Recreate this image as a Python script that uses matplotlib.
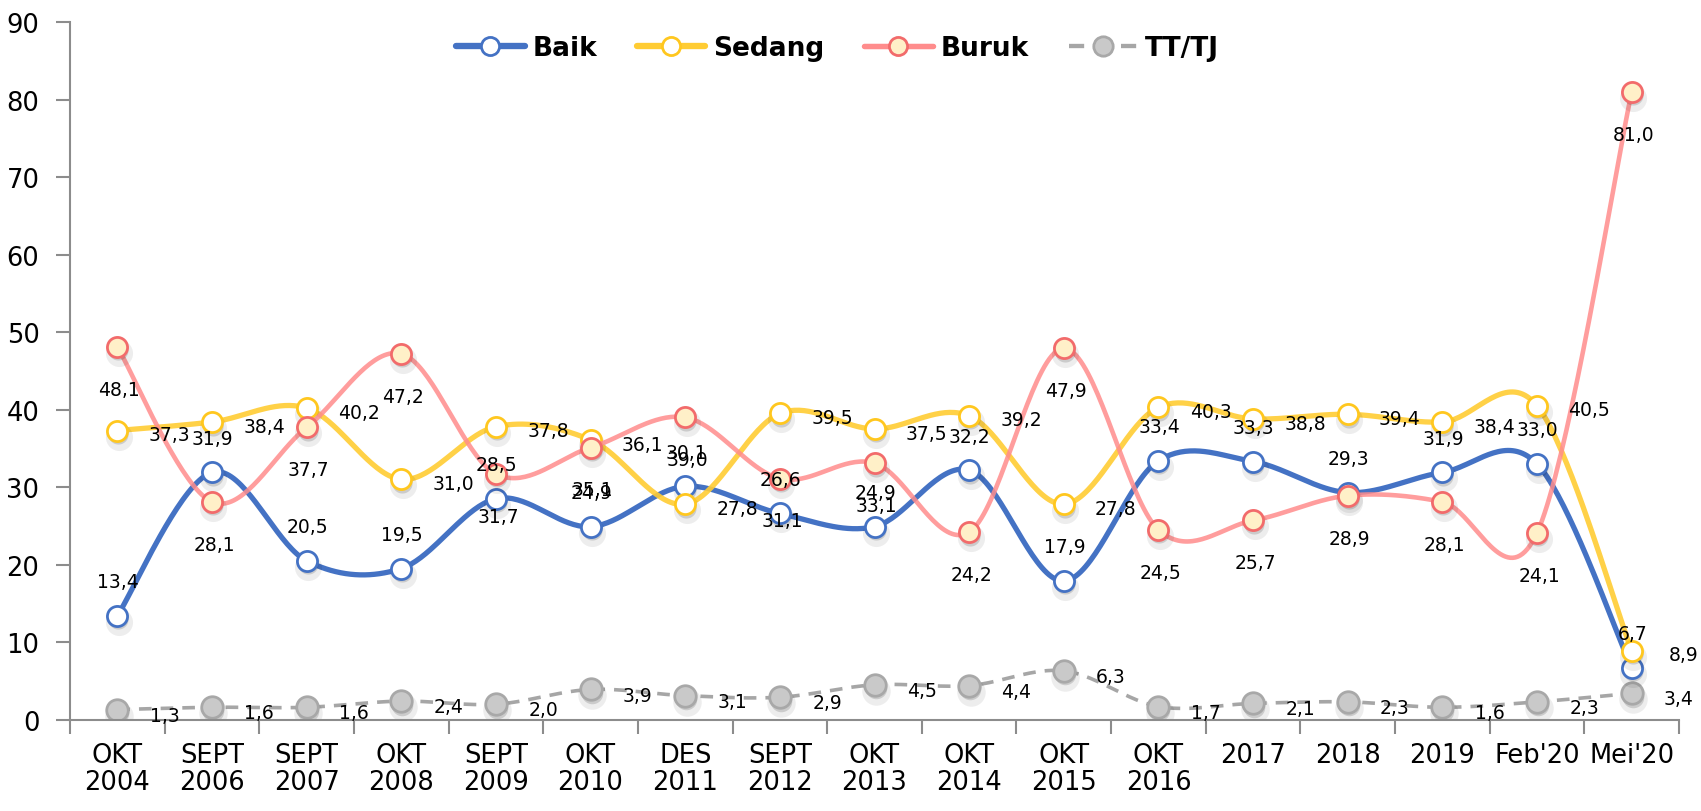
import numpy as np
import matplotlib
matplotlib.use("Agg")
import matplotlib.pyplot as plt
from matplotlib import transforms
from matplotlib.lines import Line2D

# ---------------- data ----------------
categories = ["OKT\n2004", "SEPT\n2006", "SEPT\n2007", "OKT\n2008", "SEPT\n2009",
              "OKT\n2010", "DES\n2011", "SEPT\n2012", "OKT\n2013", "OKT\n2014",
              "OKT\n2015", "OKT\n2016", "2017", "2018", "2019", "Feb'20", "Mei'20"]
baik = [13.4, 31.9, 20.5, 19.5, 28.5, 24.9, 30.1, 26.6, 24.9, 32.2, 17.9, 33.4, 33.3, 29.3, 31.9, 33.0, 6.7]
sedang = [37.3, 38.4, 40.2, 31.0, 37.8, 36.1, 27.8, 39.5, 37.5, 39.2, 27.8, 40.3, 38.8, 39.4, 38.4, 40.5, 8.9]
buruk = [48.1, 28.1, 37.7, 47.2, 31.7, 35.1, 39.0, 31.1, 33.1, 24.2, 47.9, 24.5, 25.7, 28.9, 28.1, 24.1, 81.0]
tttj = [1.3, 1.6, 1.6, 2.4, 2.0, 3.9, 3.1, 2.9, 4.5, 4.4, 6.3, 1.7, 2.1, 2.3, 1.6, 2.3, 3.4]
series_names = ["Baik", "Sedang", "Buruk", "TT/TJ"]
yticks = list(range(0, 91, 10))


def smooth(xs, ys, n=40):
    """Catmull-Rom style smoothing (as Excel's smoothed line)."""
    xs = np.asarray(xs, float)
    ys = np.asarray(ys, float)
    P = np.column_stack([xs, ys])
    out = []
    for i in range(len(P) - 1):
        p0 = P[i - 1] if i > 0 else P[i]
        p1 = P[i]
        p2 = P[i + 1]
        p3 = P[i + 2] if i + 2 < len(P) else P[i + 1]
        c1 = p1 + (p2 - p0) / 6.0
        c2 = p2 - (p3 - p1) / 6.0
        t = np.linspace(0, 1, n)[:, None]
        seg = ((1 - t) ** 3) * p1 + 3 * ((1 - t) ** 2) * t * c1 + 3 * (1 - t) * t ** 2 * c2 + t ** 3 * p2
        if i > 0:
            seg = seg[1:]
        out.append(seg)
    out = np.vstack(out)
    return out[:, 0], out[:, 1]


fig = plt.figure(figsize=(17.01, 8.12), dpi=100)
ax = fig.add_axes([70 / 1701, 1 - 720.7 / 812, (1679 - 70) / 1701, (720.7 - 23) / 812])

x = np.arange(len(categories))

styles = {
    "Baik": dict(data=baik, lc="#4472C4", lw=3.8, ls="-", mfc="white", mec="#4472C4", ms=14.5, alpha=1.0, z=3),
    "Sedang": dict(data=sedang, lc="#FFCC33", lw=3.8, ls="-", mfc="white", mec="#FFC71F", ms=14.5, alpha=0.9, z=4),
    "Buruk": dict(data=buruk, lc="#FF8C8C", lw=3.3, ls="-", mfc="#FFF0C8", mec="#F26B6B", ms=14.5, alpha=0.85, z=5),
    "TT/TJ": dict(data=tttj, lc="#A6A6A6", lw=2.6, ls=(0, (3.5, 2.5)), mfc="#C9C9C9", mec="#A8A8A8", ms=15.5, alpha=1.0, z=2),
}

shadow_tr = transforms.offset_copy(ax.transData, fig=fig, x=1.5, y=-6, units="dots")
shadow_tr2 = transforms.offset_copy(ax.transData, fig=fig, x=1.0, y=-3.5, units="dots")

for name in series_names:
    s = styles[name]
    sx, sy = smooth(x, s["data"])
    ax.plot(sx, sy, color=s["lc"], lw=s["lw"], ls=s["ls"], alpha=s["alpha"],
            solid_capstyle="round", zorder=s["z"])
    # marker shadows
    ax.plot(x, s["data"], ls="none", marker="o", ms=s["ms"] + 5, mfc="#000000", mec="none",
            alpha=0.07, transform=shadow_tr, zorder=s["z"] + 0.1)
    ax.plot(x, s["data"], ls="none", marker="o", ms=s["ms"], mfc="#000000", mec="none",
            alpha=0.14, transform=shadow_tr2, zorder=s["z"] + 0.1)
    ax.plot(x, s["data"], ls="none", marker="o", ms=s["ms"], mfc=s["mfc"], mec=s["mec"],
            mew=2.0, zorder=s["z"] + 0.2)

# data labels
lab_fs = 13.5
label_offsets = {"Baik": (0.5, 24.5), "Sedang": (37.5, -3.0), "Buruk": (1.5, -30.5), "TT/TJ": (34, -4)}
for name in series_names:
    s = styles[name]
    dx, dy = label_offsets[name]
    for xi, v in zip(x, s["data"]):
        ax.annotate(f"{v:.1f}".replace(".", ","), (xi, v), xytext=(dx, dy), textcoords="offset points",
                    ha="center", va="center", fontsize=lab_fs, color="black", zorder=10)

# axes styling
ax.set_xlim(-0.5, len(categories) - 0.5)
ax.set_ylim(0, 90)
ax.set_yticks(yticks)
ax.set_yticklabels([str(t) for t in yticks], fontsize=18.5)
ax.set_xticks(x)
ax.set_xticklabels(categories, fontsize=18.5, linespacing=1.05)
ax.set_xticks(np.arange(-0.5, len(categories), 1.0), minor=True)
ax.tick_params(axis="x", which="major", length=0, pad=16)
ax.tick_params(axis="x", which="minor", length=10, width=1.5, color="#8C8C8C", direction="out")
ax.tick_params(axis="y", which="major", length=10, width=1.5, color="#8C8C8C", direction="out", pad=12)
for sp in ["top", "right"]:
    ax.spines[sp].set_visible(False)
for sp in ["left", "bottom"]:
    ax.spines[sp].set_color("#8C8C8C")
    ax.spines[sp].set_linewidth(1.5)

# legend
handles = []
for name in series_names:
    s = styles[name]
    handles.append(Line2D([0], [0], color=s["lc"], lw=s["lw"] * 1.2, ls=s["ls"], marker="o",
                          ms=s["ms"] * 0.9, mfc=s["mfc"], mec=s["mec"], mew=2.0, solid_capstyle="round"))
leg = ax.legend(handles, series_names, loc="center", bbox_to_anchor=(0.477, 0.963), ncol=4, frameon=False,
                prop={"size": 19, "weight": "bold"}, handlelength=2.6, handletextpad=0.3, columnspacing=1.5)

fig.savefig("out.png", dpi=100)
